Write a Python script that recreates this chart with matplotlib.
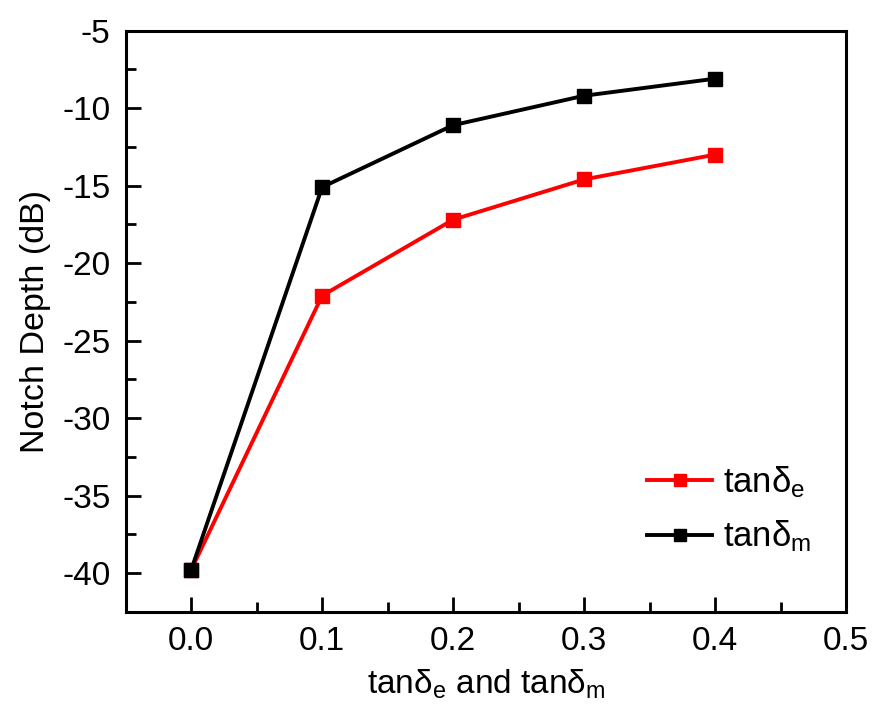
import matplotlib
matplotlib.use("Agg")
import matplotlib.pyplot as plt
from matplotlib.ticker import MultipleLocator, FormatStrFormatter

plt.rcParams['font.family'] = ['Liberation Sans', 'DejaVu Sans']
plt.rcParams['mathtext.fontset'] = 'custom'
plt.rcParams['mathtext.rm'] = 'Liberation Sans'
plt.rcParams['mathtext.it'] = 'Liberation Sans:italic'
plt.rcParams['mathtext.default'] = 'regular'

# loss tangent values
loss_tangent = [0.0, 0.1, 0.2, 0.3, 0.4]
# notch depth (dB) for electric and magnetic loss tangent
depth_e = [-39.8, -22.1, -17.2, -14.6, -13.0]
depth_m = [-39.8, -15.1, -11.1, -9.2, -8.1]

fig = plt.figure(figsize=(8.74, 7.13), dpi=100)
ax = fig.add_axes([0.1438, 0.142, 0.968 - 0.1438, 0.957 - 0.142])

ax.plot(loss_tangent, depth_e, color='#ff0000', lw=2.8, marker='s', ms=9.5,
        label=r'$\mathregular{tan\delta_e}$')
ax.plot(loss_tangent, depth_m, color='black', lw=2.8, marker='s', ms=9.5,
        label=r'$\mathregular{tan\delta_m}$')

ax.set_xlim(-0.05, 0.5)
ax.set_ylim(-42.5, -5)
ax.xaxis.set_major_locator(MultipleLocator(0.1))
ax.xaxis.set_minor_locator(MultipleLocator(0.05))
ax.yaxis.set_major_locator(MultipleLocator(5))
ax.yaxis.set_minor_locator(MultipleLocator(2.5))
ax.xaxis.set_major_formatter(FormatStrFormatter('%.1f'))
ax.yaxis.set_major_formatter(FormatStrFormatter('%d'))

ax.tick_params(which='major', direction='in', length=11, width=2, labelsize=24)
ax.tick_params(axis='y', which='major', pad=11)
ax.tick_params(axis='x', which='major', pad=10)
ax.tick_params(which='minor', direction='in', length=7, width=2)
ax.tick_params(top=False, right=False, which='both')
for s in ax.spines.values():
    s.set_linewidth(2.2)

ax.set_xlabel(r'$\mathregular{tan\delta_e}$ and $\mathregular{tan\delta_m}$', fontsize=24, labelpad=8)
ax.set_ylabel('Notch Depth (dB)', fontsize=24.5, labelpad=8)

ax.legend(loc='lower right', frameon=False, fontsize=25, handlelength=1.88,
          markerscale=0.9, bbox_to_anchor=(0.995, 0.045), labelspacing=0.55,
          handletextpad=0.3)

fig.savefig('out.png', dpi=100)
